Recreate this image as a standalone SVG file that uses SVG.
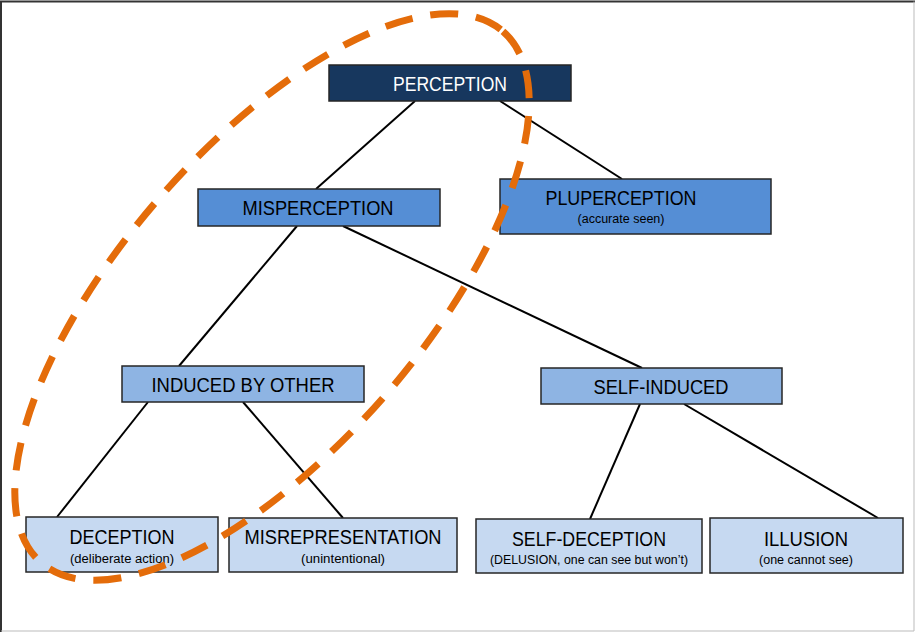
<svg xmlns="http://www.w3.org/2000/svg" width="916" height="633" viewBox="0 0 916 633">
<style>
.box{stroke:#262626;stroke-width:1.5}
.l0{fill:#17375e}
.l1{fill:#558ed5}
.l2{fill:#8eb4e3}
.l3{fill:#c6d9f1}
.t{font-family:"Liberation Sans",Arial,sans-serif;font-size:20px;fill:#000;text-anchor:middle}
.s{font-family:"Liberation Sans",Arial,sans-serif;font-size:12.5px;fill:#000;text-anchor:middle}
.w{fill:#fff}
.conn line{stroke:#000;stroke-width:2}
</style>
<rect x="0" y="0" width="916" height="633" fill="#fff"/>
<path d="M1,632 V1.5 H915" fill="none" stroke="#333" stroke-width="2"/>
<path d="M914,1.5 V631 H1" fill="none" stroke="#bbb" stroke-width="1"/>
<g id="connectors" class="conn">
<line x1="415" y1="101" x2="316" y2="189"/>
<line x1="500" y1="101" x2="622" y2="179"/>
<line x1="297" y1="226" x2="179" y2="366"/>
<line x1="343" y1="226" x2="642" y2="368"/>
<line x1="148" y1="402" x2="57" y2="517"/>
<line x1="243" y1="402" x2="343" y2="518"/>
<line x1="640" y1="404" x2="590" y2="519"/>
<line x1="684" y1="404" x2="878" y2="518"/>
</g>
<g id="perception">
<rect class="box l0" x="329" y="65" width="242" height="36"/>
<text class="t w" x="450" y="91" textLength="114" lengthAdjust="spacingAndGlyphs">PERCEPTION</text>
</g>
<g id="misperception">
<rect class="box l1" x="198" y="189" width="242" height="37"/>
<text class="t" x="318" y="215" textLength="151" lengthAdjust="spacingAndGlyphs">MISPERCEPTION</text>
</g>
<g id="pluperception">
<rect class="box l1" x="500" y="179" width="271" height="55"/>
<text class="t" x="621" y="205" textLength="151" lengthAdjust="spacingAndGlyphs">PLUPERCEPTION</text>
<text class="s" x="621" y="223" textLength="87" lengthAdjust="spacingAndGlyphs">(accurate seen)</text>
</g>
<g id="induced-by-other">
<rect class="box l2" x="122" y="366" width="242" height="36"/>
<text class="t" x="243" y="392" textLength="183" lengthAdjust="spacingAndGlyphs">INDUCED BY OTHER</text>
</g>
<g id="self-induced">
<rect class="box l2" x="541" y="368" width="241" height="36"/>
<text class="t" x="661" y="394" textLength="135" lengthAdjust="spacingAndGlyphs">SELF-INDUCED</text>
</g>
<g id="deception">
<rect class="box l3" x="26" y="517" width="192" height="55"/>
<text class="t" x="122" y="544" textLength="105" lengthAdjust="spacingAndGlyphs">DECEPTION</text>
<text class="s" x="122" y="563" textLength="104" lengthAdjust="spacingAndGlyphs">(deliberate action)</text>
</g>
<g id="misrepresentation">
<rect class="box l3" x="229" y="518" width="228" height="54"/>
<text class="t" x="343" y="544" textLength="197" lengthAdjust="spacingAndGlyphs">MISREPRESENTATION</text>
<text class="s" x="343" y="563" textLength="84" lengthAdjust="spacingAndGlyphs">(unintentional)</text>
</g>
<g id="self-deception">
<rect class="box l3" x="476" y="519" width="226" height="54"/>
<text class="t" x="589" y="546" textLength="154" lengthAdjust="spacingAndGlyphs">SELF-DECEPTION</text>
<text class="s" x="589" y="564" textLength="198" lengthAdjust="spacingAndGlyphs">(DELUSION, one can see but won’t)</text>
</g>
<g id="illusion">
<rect class="box l3" x="710" y="518" width="193" height="55"/>
<text class="t" x="806" y="546" textLength="84" lengthAdjust="spacingAndGlyphs">ILLUSION</text>
<text class="s" x="806" y="564" textLength="94" lengthAdjust="spacingAndGlyphs">(one cannot see)</text>
</g>
<g id="highlight">
<ellipse cx="272" cy="297" rx="352" ry="150" transform="rotate(-49 272 297)" fill="none" stroke="#e46c0a" stroke-width="7" stroke-dasharray="28 18"/>
</g>
</svg>
